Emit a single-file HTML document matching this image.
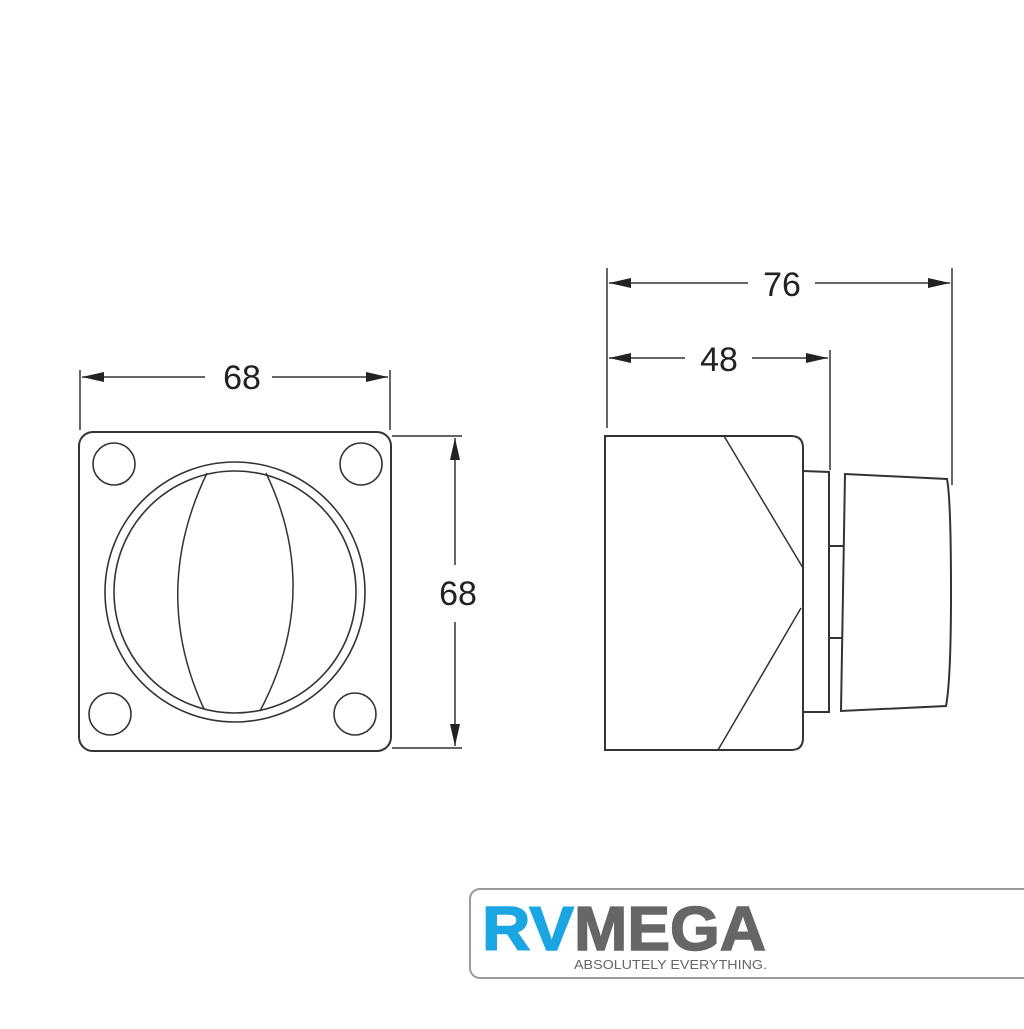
<!DOCTYPE html>
<html><head><style>
body{margin:0;background:#fff;width:1024px;height:1024px;overflow:hidden}
</style></head><body>
<svg width="1024" height="1024" viewBox="0 0 1024 1024" xmlns="http://www.w3.org/2000/svg">
<defs><marker id="a" markerWidth="22" markerHeight="10" refX="22" refY="5" orient="auto" markerUnits="userSpaceOnUse"><path d="M0,0 L22,5 L0,10 Z" fill="#222"/></marker></defs>
<g fill="none" stroke="#333" stroke-width="2">
<rect x="79" y="432" width="312" height="319" rx="14"/>
<circle cx="114" cy="464" r="21" stroke-width="1.6"/>
<circle cx="361" cy="464" r="21" stroke-width="1.6"/>
<circle cx="110" cy="714" r="21" stroke-width="1.6"/>
<circle cx="355" cy="714" r="21" stroke-width="1.6"/>
<ellipse cx="235" cy="592" rx="130" ry="130" stroke-width="1.6"/>
<ellipse cx="235" cy="592" rx="121" ry="121" stroke-width="1.6"/>
<path d="M207,473 Q150,592 204,709" stroke-width="1.5"/>
<path d="M266,473 Q323,592 260,711" stroke-width="1.5"/>
<line x1="80" y1="370" x2="80" y2="430" stroke-width="1.5"/>
<line x1="390" y1="370" x2="390" y2="430" stroke-width="1.5"/>
<line x1="205" y1="377" x2="82" y2="377" marker-end="url(#a)" stroke-width="1.5"/>
<line x1="272" y1="377" x2="388" y2="377" marker-end="url(#a)" stroke-width="1.5"/>
<line x1="392" y1="436" x2="462" y2="436" stroke-width="1.5"/>
<line x1="392" y1="748" x2="462" y2="748" stroke-width="1.5"/>
<line x1="455" y1="565" x2="455" y2="438" marker-end="url(#a)" stroke-width="1.5"/>
<line x1="455" y1="622" x2="455" y2="746" marker-end="url(#a)" stroke-width="1.5"/>
<path d="M605,436 L791,436 Q803,436 803,448 L803,738 Q803,750 791,750 L605,750 Z"/>
<line x1="724" y1="436" x2="803" y2="568" stroke-width="1.5"/>
<line x1="801" y1="608" x2="718" y2="750" stroke-width="1.5"/>
<path d="M803,471 L829,472 L829,712 L803,712"/>
<line x1="829" y1="546" x2="843" y2="546"/>
<line x1="829" y1="638" x2="843" y2="638"/>
<path d="M845,474 L947,479 Q951,500 951,592 Q951,680 946,706 L841,711 Z"/>
<line x1="607" y1="268" x2="607" y2="428" stroke-width="1.5"/>
<line x1="952" y1="268" x2="952" y2="485" stroke-width="1.5"/>
<line x1="830" y1="350" x2="830" y2="470" stroke-width="1.5"/>
<line x1="748" y1="283" x2="609" y2="283" marker-end="url(#a)" stroke-width="1.5"/>
<line x1="815" y1="283" x2="950" y2="283" marker-end="url(#a)" stroke-width="1.5"/>
<line x1="685" y1="358" x2="609" y2="358" marker-end="url(#a)" stroke-width="1.5"/>
<line x1="752" y1="358" x2="828" y2="358" marker-end="url(#a)" stroke-width="1.5"/>
</g>
<g font-family="Liberation Sans, sans-serif" font-size="34" fill="#222" text-anchor="middle">
<text x="242" y="389">68</text>
<text x="458" y="605">68</text>
<text x="782" y="296">76</text>
<text x="719" y="371">48</text>
</g>
<rect x="470" y="889" width="570" height="89" rx="10" fill="#fff" stroke="#999" stroke-width="2"/>
<text x="482" y="950" font-family="Liberation Sans, sans-serif" font-weight="bold" font-size="62" fill="#1aa5e3" stroke="#1aa5e3" stroke-width="1.5" textLength="92" lengthAdjust="spacingAndGlyphs">RV</text>
<text x="574" y="950" font-family="Liberation Sans, sans-serif" font-weight="bold" font-size="62" fill="#666" stroke="#666" stroke-width="1.5" textLength="192" lengthAdjust="spacingAndGlyphs">MEGA</text>
<text x="574" y="969" font-family="Liberation Sans, sans-serif" font-size="13" fill="#666" textLength="193" lengthAdjust="spacingAndGlyphs">ABSOLUTELY EVERYTHING.</text>
</svg>
</body></html>
